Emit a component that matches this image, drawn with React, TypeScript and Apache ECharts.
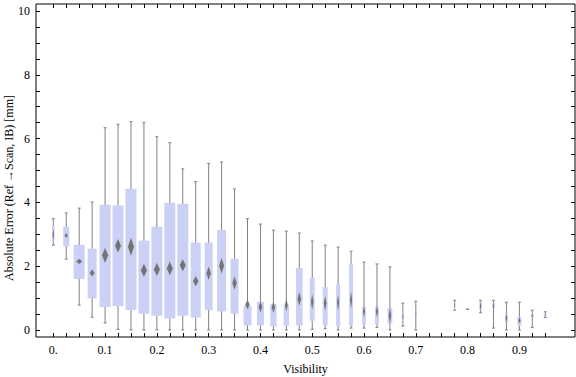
import React, { useEffect, useRef } from "react";
import * as echarts from "echarts";

// Visibility bins (x positions of the boxes)
const visibility = [
  0, 0.025, 0.05, 0.075, 0.1, 0.125, 0.15, 0.175, 0.2, 0.225, 0.25, 0.275, 0.3, 0.325, 0.35,
  0.375, 0.4, 0.425, 0.45, 0.475, 0.5, 0.525, 0.55, 0.575, 0.6, 0.625, 0.65, 0.675, 0.7,
  0.775, 0.8, 0.825, 0.85, 0.875, 0.9, 0.925, 0.95,
];
// whisker minimum
const whiskerLow = [
  2.66, 2.22, 0.78, 0.4, 0.22, 0.02, 0.0, 0.0, 0.0, 0.0, 0.0, 0.0, 0.0, 0.0, 0.0,
  0.0, 0.0, 0.0, 0.0, 0.0, 0.02, 0.04, 0.0, 0.06, 0.06, 0.08, 0.0, 0.12, 0.0,
  0.62, 0.65, 0.54, 0.06, 0.0, 0.0, 0.08, 0.39,
];
// lower quartile
const quartile1 = [
  2.78, 2.62, 1.6, 0.99, 0.72, 0.75, 0.63, 0.51, 0.45, 0.36, 0.45, 0.39, 0.63, 0.58, 0.51,
  0.14, 0.14, 0.11, 0.14, 0.14, 0.29, 0.14, 0.11, 0.14, 0.17, 0.17, 0.2, 0.29, 0.37,
  0.65, 0.65, 0.62, 0.66, 0.23, 0.14, 0.39, 0.41,
];
// mean (diamond centre)
const meanValue = [
  2.99, 2.96, 2.15, 1.79, 2.34, 2.64, 2.61, 1.87, 1.9, 1.93, 2.03, 1.53, 1.78, 2.01, 1.47,
  0.8, 0.72, 0.71, 0.78, 0.97, 0.88, 0.84, 0.86, 0.94, 0.58, 0.58, 0.45, 0.42, 0.5,
  0.78, 0.65, 0.75, 0.75, 0.37, 0.3, 0.45, 0.47,
];
// upper quartile
const quartile3 = [
  3.26, 3.24, 2.67, 2.55, 3.93, 3.9, 4.43, 2.8, 3.24, 3.99, 3.96, 2.74, 2.74, 3.14, 2.23,
  0.76, 0.88, 0.82, 0.79, 1.95, 1.63, 1.35, 1.45, 2.08, 0.72, 0.72, 0.69, 0.54, 0.65,
  0.89, 0.65, 0.9, 0.85, 0.51, 0.41, 0.48, 0.53,
];
// whisker maximum
const whiskerHigh = [
  3.49, 3.67, 3.82, 4.01, 6.34, 6.45, 6.53, 6.5, 6.06, 5.87, 5.05, 4.65, 5.22, 5.27, 4.42,
  3.49, 3.32, 3.13, 3.1, 3.04, 2.79, 2.66, 2.6, 2.47, 2.13, 2.07, 1.98, 0.84, 0.9,
  0.93, 0.65, 0.93, 0.93, 0.87, 0.87, 0.62, 0.57,
];
// half height of the mean confidence diamond
const meanConfHalf = [
  0.2, 0.08, 0.08, 0.11, 0.24, 0.21, 0.28, 0.21, 0.21, 0.22, 0.19, 0.16, 0.21, 0.25, 0.21,
  0.15, 0.17, 0.18, 0.19, 0.21, 0.24, 0.23, 0.25, 0.26, 0.19, 0.19, 0.25, 0.12, 0.17,
  0.12, 0.0, 0.14, 0.1, 0.14, 0.1, 0.05, 0.05,
];
// relative sample weight (drives box width)
const sampleWeight = [
  0.23, 0.55, 1, 0.82, 1, 1, 1, 1, 1, 1, 1, 0.91, 0.73, 0.82, 0.73,
  0.73, 0.64, 0.57, 0.48, 0.61, 0.45, 0.45, 0.36, 0.36, 0.34, 0.36, 0.43, 0.18, 0.14,
  0.14, 0.09, 0.23, 0.23, 0.27, 0.36, 0.27, 0.18,
];

const yTickLabels = ["0", "2", "4", "6", "8", "10"];
const xTickLabels = ["0.", "0.1", "0.2", "0.3", "0.4", "0.5", "0.6", "0.7", "0.8", "0.9"];

const FONT = "'Liberation Serif', 'Times New Roman', serif";

export default function App() {
  const ref = useRef<HTMLDivElement>(null);
  useEffect(() => {
    if (!ref.current) return;
    const chart = echarts.init(ref.current, undefined, { renderer: "svg" });
    const data = visibility.map((v, i) => [
      v,
      whiskerLow[i],
      quartile1[i],
      meanValue[i],
      quartile3[i],
      whiskerHigh[i],
      meanConfHalf[i],
      sampleWeight[i],
    ]);
    const tickStyle = { show: true, inside: true, length: 4, lineStyle: { color: "#000", width: 1 } };
    const option: any = {
      animation: false,
      backgroundColor: "#fff",
      grid: [
        { left: 36, top: 4, width: 539, height: 333, show: true, borderColor: "#000", borderWidth: 1, backgroundColor: "transparent" },
        { left: 53.3, top: 4, width: 492, height: 333 },
        { left: 36, top: 11, width: 539, height: 319 },
      ],
      xAxis: [
        { type: "value", gridIndex: 0, min: -0.0334, max: 1.0074, show: false },
        {
          type: "value", gridIndex: 1, min: 0, max: 0.95, interval: 0.025, position: "bottom",
          axisLine: { show: false }, splitLine: { show: false }, axisTick: tickStyle,
          axisLabel: {
            color: "#000", fontFamily: FONT, fontSize: 12, margin: 7,
            formatter: (v: number) => {
              const k = Math.round(v * 10);
              return Math.abs(v * 10 - k) < 1e-6 && k < xTickLabels.length ? xTickLabels[k] : "";
            },
          },
        },
        {
          type: "value", gridIndex: 1, min: 0, max: 0.95, interval: 0.025, position: "top",
          axisLine: { show: false }, splitLine: { show: false }, axisTick: tickStyle, axisLabel: { show: false },
        },
        { type: "value", gridIndex: 2, min: 0, max: 1, show: false },
      ],
      yAxis: [
        { type: "value", gridIndex: 0, min: -0.22, max: 10.22, show: false },
        { type: "value", gridIndex: 1, min: 0, max: 1, show: false },
        {
          type: "value", gridIndex: 2, min: 0, max: 10, interval: 0.5, position: "left",
          axisLine: { show: false }, splitLine: { show: false }, axisTick: tickStyle,
          axisLabel: {
            color: "#000", fontFamily: FONT, fontSize: 12, margin: 6,
            formatter: (v: number) => {
              const k = Math.round(v / 2);
              return Math.abs(v / 2 - k) < 1e-6 ? yTickLabels[k] : "";
            },
          },
        },
        {
          type: "value", gridIndex: 2, min: 0, max: 10, interval: 0.5, position: "right",
          axisLine: { show: false }, splitLine: { show: false }, axisTick: tickStyle, axisLabel: { show: false },
        },
      ],
      graphic: [
        {
          type: "text", x: 305.5, y: 369,
          style: { text: "Visibility", fontFamily: FONT, fontSize: 12, fill: "#000", textAlign: "center", textVerticalAlign: "middle" },
        },
        {
          type: "text", x: 9, y: 188, rotation: Math.PI / 2,
          style: { text: "Absolute Error (Ref \u2192Scan, IB) [mm]", fontFamily: FONT, fontSize: 12, fill: "#000", textAlign: "center", textVerticalAlign: "middle" },
        },
      ],
      series: [
        {
          type: "custom",
          xAxisIndex: 0,
          yAxisIndex: 0,
          clip: false,
          data,
          renderItem: (_params: any, api: any) => {
            const x = api.value(0);
            const pLo = api.coord([x, api.value(1)]);
            const pQ1 = api.coord([x, api.value(2)]);
            const pM = api.coord([x, api.value(3)]);
            const pQ3 = api.coord([x, api.value(4)]);
            const pHi = api.coord([x, api.value(5)]);
            const dh = api.size([0, api.value(6)])[1];
            const step = api.size([0.025, 0])[0];
            const bw = step * 0.85 * api.value(7);
            const cx = pM[0];
            const cap = 1.5;
            const dw = bw * 0.55;
            const lineStyle = { stroke: "#808080", lineWidth: 1 };
            const children: any[] = [
              { type: "line", shape: { x1: cx, y1: pLo[1], x2: cx, y2: pHi[1] }, style: lineStyle },
              { type: "line", shape: { x1: cx - cap, y1: pLo[1], x2: cx + cap, y2: pLo[1] }, style: lineStyle },
              { type: "line", shape: { x1: cx - cap, y1: pHi[1], x2: cx + cap, y2: pHi[1] }, style: lineStyle },
              {
                type: "rect",
                shape: { x: cx - bw / 2, y: pQ3[1], width: bw, height: Math.max(0, pQ1[1] - pQ3[1]) },
                style: { fill: "#cbd1f4" },
              },
            ];
            if (dh > 0) {
              children.push({
                type: "polygon",
                shape: { points: [[cx, pM[1] - dh], [cx + dw / 2, pM[1]], [cx, pM[1] + dh], [cx - dw / 2, pM[1]]] },
                style: { fill: "#747474" },
              });
            }
            return { type: "group", children };
          },
        },
      ],
    };
    chart.setOption(option);
    return () => chart.dispose();
  }, []);
  return <div ref={ref} style={{ position: "fixed", left: 0, top: 0, width: 576, height: 377 }} />;
}
